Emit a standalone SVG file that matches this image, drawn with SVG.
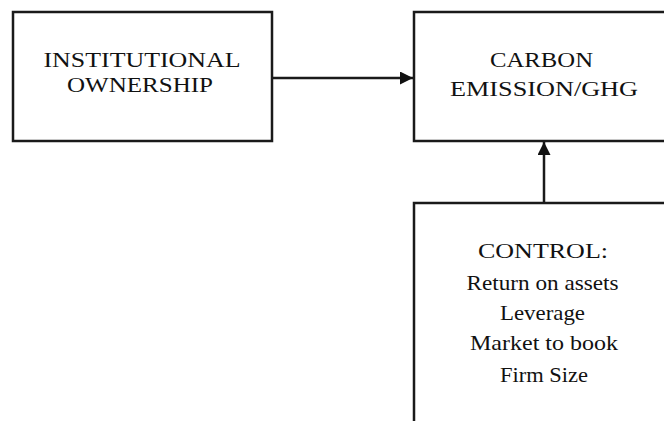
<svg xmlns="http://www.w3.org/2000/svg" width="664" height="421" viewBox="0 0 664 421">
  <defs>
    <marker id="arrowhead" viewBox="0 0 13 13" refX="13" refY="6.5" markerWidth="13" markerHeight="13" markerUnits="userSpaceOnUse" orient="auto">
      <path d="M0,0 L13,6.5 L0,13 Z" fill="#111"/>
    </marker>
  </defs>
  <style>
    .box { fill: #fff; stroke: #1a1a1a; stroke-width: 2.5; }
    .edge { stroke: #1a1a1a; stroke-width: 2.5; fill: none; marker-end: url(#arrowhead); }
    .cap { font-family: "Liberation Serif", "Times New Roman", serif; font-size: 20px; fill: #111; text-anchor: middle; }
    .item { font-family: "Liberation Serif", "Times New Roman", serif; font-size: 21px; fill: #111; text-anchor: middle; }
  </style>
  <rect width="664" height="421" fill="#fff"/>

  <g id="connectors">
    <line class="edge" x1="272" y1="78" x2="413" y2="78"/>
    <line class="edge" x1="544" y1="203" x2="544" y2="142"/>
  </g>

  <g id="institutional-ownership">
    <rect class="box" x="13" y="12" width="259" height="129"/>
    <text class="cap" x="142" y="67" textLength="197" lengthAdjust="spacingAndGlyphs">INSTITUTIONAL</text>
    <text class="cap" x="140" y="92" textLength="146" lengthAdjust="spacingAndGlyphs">OWNERSHIP</text>
  </g>

  <g id="carbon-emission">
    <rect class="box" x="414" y="12" width="300" height="129"/>
    <text class="cap" x="541.5" y="67" textLength="103" lengthAdjust="spacingAndGlyphs">CARBON</text>
    <text class="cap" x="544" y="96" textLength="188" lengthAdjust="spacingAndGlyphs">EMISSION/GHG</text>
  </g>

  <g id="control">
    <rect class="box" x="414" y="203" width="300" height="300"/>
    <text class="cap" x="543" y="258" textLength="130" lengthAdjust="spacingAndGlyphs">CONTROL:</text>
    <text class="item" x="542.5" y="290" textLength="152" lengthAdjust="spacingAndGlyphs">Return on assets</text>
    <text class="item" x="542.5" y="320" textLength="85" lengthAdjust="spacingAndGlyphs">Leverage</text>
    <text class="item" x="544" y="350" textLength="148" lengthAdjust="spacingAndGlyphs">Market to book</text>
    <text class="item" x="544" y="382" textLength="88" lengthAdjust="spacingAndGlyphs">Firm Size</text>
  </g>
</svg>
